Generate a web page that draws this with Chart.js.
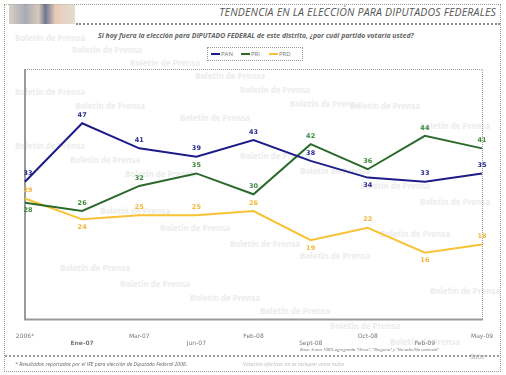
<!DOCTYPE html>
<html>
<head>
<meta charset="utf-8">
<script src="https://cdn.jsdelivr.net/npm/chart.js@4"></script>
<style>
  html, body { margin: 0; padding: 0; background: #fff; }
  #page { position: relative; width: 506px; height: 375px; overflow: hidden; font-family: "Open Sans", "DejaVu Sans", sans-serif; }
  #frame { position: absolute; left: 4px; top: 4px; width: 495px; height: 366px; border: 1px dotted #9a9a9a; }
  #logo { position: absolute; left: 9px; top: 4px; width: 66px; height: 20px;
          background: linear-gradient(90deg, #c9c2b4 0%, #8c8f9c 25%, #cbb5a4 45%, #3c4a6c 55%, #e0b8a0 70%, #d8d2c0 100%); opacity: .75; }
  #hline { position: absolute; left: 76px; top: 23px; width: 424px; border-top: 2px dotted #8a8a8a; }
  #title { position: absolute; right: 10px; top: 5px; font-size: 10.5px; font-style: italic; color: #555; letter-spacing: .2px; }
  #sub { position: absolute; left: 98px; top: 31px; font-size: 6.9px; font-style: italic; font-weight: bold; color: #666; }
  #legend { position: absolute; left: 207px; top: 47px; width: 94px; height: 12px; border: 1px dotted #999; font-size: 6px; color: #777; background: #fff; }
  #legend span { position: absolute; top: 2px; }
  #legend i { display: inline-block; width: 9px; height: 2px; vertical-align: middle; margin-right: 1px; }
  #note { position: absolute; left: 300px; top: 346px; font-size: 4.3px; color: #777; font-style: italic; }
  #fline { position: absolute; left: 5px; top: 355px; width: 494px; border-top: 2px dotted #9a9a9a; }
  #foot1 { position: absolute; left: 15px; top: 360px; font-size: 5.2px; font-style: italic; color: #666; }
  #foot2 { position: absolute; left: 243px; top: 360px; font-size: 5.2px; font-style: italic; color: #bbb; }
  #sabe { position: absolute; left: 470px; top: 352px; font-size: 7px; color: #aaa; font-style: italic; }
  #wrap { position: absolute; left: 0; top: 0; width: 506px; height: 375px; }
  .wm { position: absolute; font-size: 8px; font-weight: bold; color: #ececec; white-space: nowrap; }
</style>
</head>
<body>
<div id="page">
  <div id="frame"></div>
  <div id="marcas"></div>
  <div id="logo"></div>
  <div id="hline"></div>
  <div id="title">TENDENCIA EN LA ELECCIÓN PARA DIPUTADOS FEDERALES</div>
  <div id="sub">Si hoy fuera la elección para DIPUTADO FEDERAL de este distrito, ¿por cuál partido votaría usted?</div>
  <div id="legend">
    <span style="left:3px"><i style="background:#1c1c8a"></i>PAN</span>
    <span style="left:33px"><i style="background:#2c6a2c"></i>PRI</span>
    <span style="left:61px"><i style="background:#f7c334"></i>PRD</span>
  </div>
  <div id="wrap"><canvas id="grafica"></canvas></div>
  <div id="note">Base: Suma 100% agregando "Otros", "Ninguno" y "No sabe/No contestó"</div>
  <div id="fline"></div>
  <div id="foot1">* Resultados reportados por el IFE para elección de Diputado Federal 2006.</div>
  <div id="foot2">Votación efectiva: no se incluyen votos nulos</div>
  <div id="sabe">Sabe</div>
</div>
<script>
const fechas = ['2006*', 'Ene-07', 'Mar-07', 'Jun-07', 'Feb-08', 'Sept-08', 'Oct-08', 'Feb-09', 'May-09'];
const pan = [33, 47, 41, 39, 43, 38, 34, 33, 35];
const pri = [28, 26, 32, 35, 30, 42, 36, 44, 41];
const prd = [29, 24, 25, 25, 26, 19, 22, 16, 18];

// donde va cada etiqueta: 1 arriba, -1 abajo
const posPan = [1, 1, 1, 1, 1, 1, -1, 1, 1];
const posPri = [-1, 1, 1, 1, 1, 1, 1, 1, 1];
const posPrd = [1, -1, 1, 1, 1, -1, 1, -1, 1];

const colores = ['#1c1c8a', '#2c6a2c', '#f7c334'];
const colTexto = ['#2a2a90', '#3d8a3d', '#f5b640'];

// marca de agua de fondo
const marcas = [[15,32],[72,44],[130,57],[195,70],[15,86],[75,100],[240,84],[290,98],[350,100],[180,112],
    [420,120],[15,140],[70,154],[125,168],[240,150],[300,165],[360,180],[420,196],[100,205],[160,222],
    [230,238],[300,250],[380,228],[60,262],[120,278],[190,292],[260,305],[330,320],[390,336],[430,285]];
let html = '';
marcas.forEach(m => { html += '<div class="wm" style="left:' + m[0] + 'px;top:' + m[1] + 'px">Boletín de Prensa</div>'; });
document.getElementById('marcas').innerHTML = html;

const etiquetas = {
    id: 'etiquetas',
    afterDatasetsDraw(chart) {
        const ctx = chart.ctx;
        const posiciones = [posPan, posPri, posPrd];
        ctx.save();
        ctx.font = 'bold 6.5px "DejaVu Sans"';
        ctx.textAlign = 'center';
        ctx.textBaseline = 'middle';
        chart.data.datasets.forEach((ds, i) => {
            chart.getDatasetMeta(i).data.forEach((p, j) => {
                ctx.fillStyle = colTexto[i];
                ctx.fillText(ds.data[j], p.x + (j === 0 ? 3 : 0), p.y - posiciones[i][j] * 8);
            });
        });
        ctx.restore();
    }
};

const caja = {
    id: 'caja',
    beforeDatasetsDraw(chart) {
        const a = chart.chartArea;
        const ctx = chart.ctx;
        ctx.save();
        ctx.strokeStyle = '#9a9a9a';
        ctx.lineWidth = 1;
        ctx.setLineDash([1, 1]);
        ctx.beginPath();
        ctx.moveTo(a.left, a.top + 0.5);
        ctx.lineTo(a.right + 0.5, a.top + 0.5);
        ctx.lineTo(a.right + 0.5, a.bottom);
        ctx.stroke();
        ctx.setLineDash([]);
        ctx.lineWidth = 2;
        ctx.beginPath();
        ctx.moveTo(a.left, a.top);
        ctx.lineTo(a.left, a.bottom);
        ctx.lineTo(a.right + 1, a.bottom);
        ctx.stroke();
        ctx.restore();
    }
};

const data = {
    labels: fechas,
    datasets: [
        { label: 'PAN', data: pan, borderColor: colores[0], backgroundColor: colores[0] },
        { label: 'PRI', data: pri, borderColor: colores[1], backgroundColor: colores[1] },
        { label: 'PRD', data: prd, borderColor: colores[2], backgroundColor: colores[2] }
    ]
};

const config = {
    type: 'line',
    data: data,
    options: {
        responsive: false,
        animation: false,
        layout: { padding: { left: 25, right: 24, top: 69, bottom: 23 } },
        elements: {
            line: { borderWidth: 2, tension: 0 },
            point: { radius: 0 }
        },
        plugins: { legend: { display: false }, tooltip: { enabled: false } },
        scales: {
            y: { display: false, min: 0, max: 60 },
            x: {
                offset: false,
                grid: { display: false },
                border: { display: false },
                ticks: {
                    padding: 5,
                    maxRotation: 0,
                    autoSkip: false,
                    color: '#777',
                    font: ctx => ({ family: 'DejaVu Sans', size: 6, weight: ctx.index === 1 ? 'bold' : 'normal' }),
                    callback: (v, i) => i % 2 === 0 ? [fechas[i]] : ['', fechas[i]]
                }
            }
        }
    },
    plugins: [caja, etiquetas]
};

const canvas = document.getElementById('grafica');
canvas.width = 506;
canvas.height = 375;
const myChart = new Chart(canvas, config);
</script>
</body>
</html>
